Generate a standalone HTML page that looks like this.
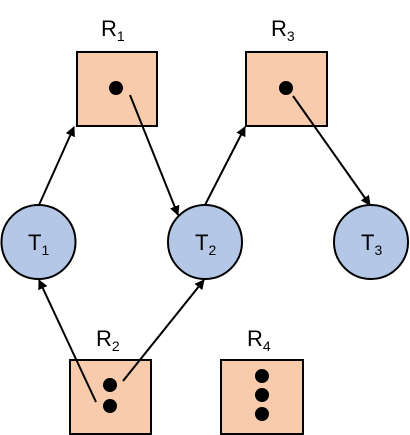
<!DOCTYPE html>
<html><head><meta charset="utf-8"><style>html,body{margin:0;padding:0;background:#fff}svg{display:block}</style></head>
<body>
<svg width="410" height="435" viewBox="0 0 410 435" font-family="'Liberation Sans', sans-serif">
<defs><marker id="ah" markerWidth="10" markerHeight="10" refX="9" refY="5" orient="auto" markerUnits="userSpaceOnUse"><path d="M0,0 L10,5 L0,10 z" fill="#000"/></marker></defs>
<g stroke="#000" stroke-width="2" fill="#F8CBAD">
<rect x="77" y="52" width="80" height="74"/>
<rect x="246" y="52" width="81" height="74"/>
<rect x="70" y="360" width="81" height="74"/>
<rect x="221" y="360" width="82" height="74"/>
</g>
<g stroke="#000" stroke-width="2" fill="#B4C7E7">
<circle cx="38.5" cy="242" r="37"/>
<circle cx="205" cy="242" r="37"/>
<circle cx="371" cy="242" r="37"/>
</g>
<g fill="#000">
<circle cx="116" cy="88" r="7"/>
<circle cx="286" cy="88" r="7"/>
<circle cx="110" cy="385" r="7"/>
<circle cx="110" cy="406" r="7"/>
<circle cx="262" cy="376" r="7"/>
<circle cx="262" cy="395" r="7"/>
<circle cx="262" cy="414" r="7"/>
</g>
<g stroke="#000" stroke-width="2" marker-end="url(#ah)">
<line x1="39" y1="205" x2="74" y2="127"/>
<line x1="130" y1="95" x2="178" y2="215"/>
<line x1="205" y1="205" x2="245" y2="127"/>
<line x1="293" y1="96" x2="370" y2="205"/>
<line x1="96" y1="402" x2="39" y2="280"/>
<line x1="123" y1="381" x2="204" y2="280"/>
</g>
<g font-size="22" fill="#000">
<text x="101" y="36">R<tspan font-size="14" dy="5">1</tspan></text>
<text x="271" y="36">R<tspan font-size="14" dy="5">3</tspan></text>
<text x="96" y="346">R<tspan font-size="14" dy="5">2</tspan></text>
<text x="247" y="346">R<tspan font-size="14" dy="5">4</tspan></text>
<text x="28" y="250">T<tspan font-size="14" dy="5">1</tspan></text>
<text x="195" y="250">T<tspan font-size="14" dy="5">2</tspan></text>
<text x="361" y="250">T<tspan font-size="14" dy="5">3</tspan></text>
</g>
</svg>
</body></html>
